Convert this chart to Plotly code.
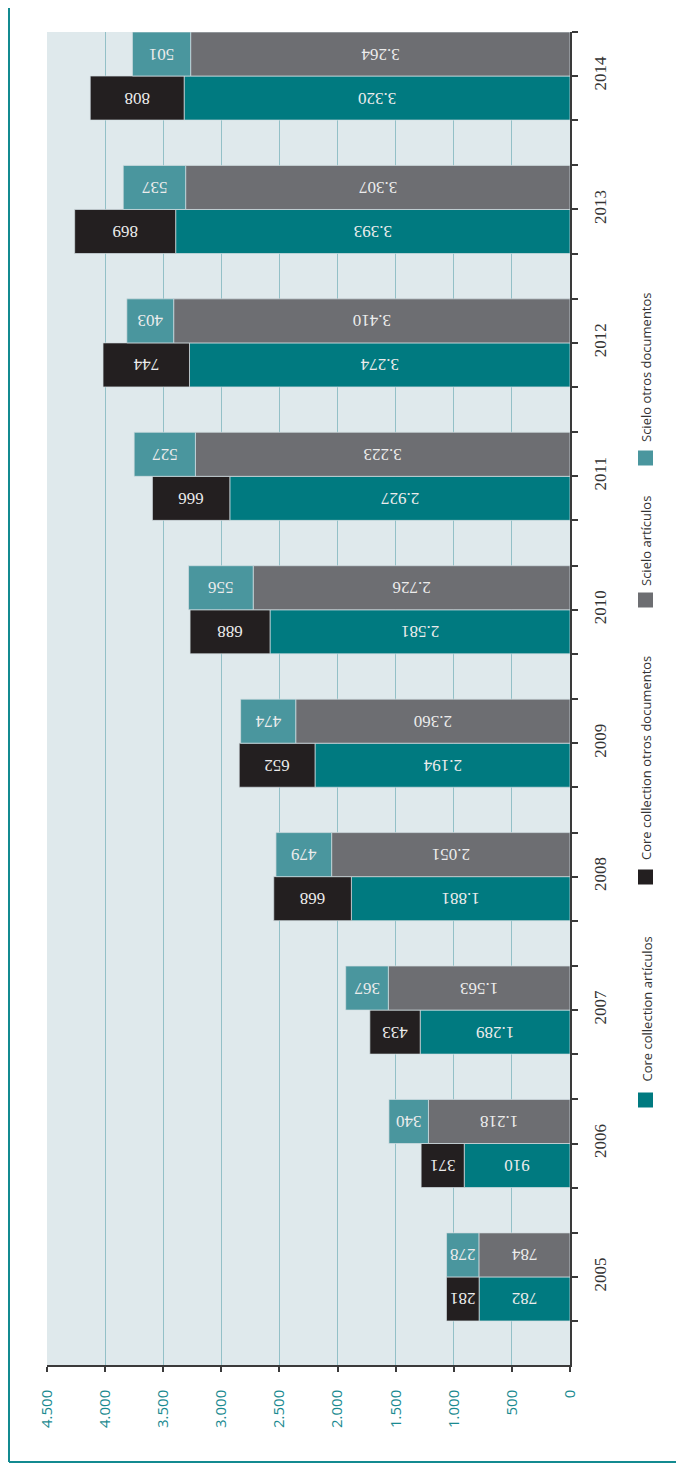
import plotly.graph_objects as go

years = [2005, 2006, 2007, 2008, 2009, 2010, 2011, 2012, 2013, 2014]
core_articulos = [782, 910, 1289, 1881, 2194, 2581, 2927, 3274, 3393, 3320]
core_otros = [281, 371, 433, 668, 652, 688, 666, 744, 869, 808]
scielo_articulos = [784, 1218, 1563, 2051, 2360, 2726, 3223, 3410, 3307, 3264]
scielo_otros = [278, 340, 367, 479, 474, 556, 527, 403, 537, 501]
series_names = ["Core collection artículos", "Core collection otros documentos",
                "Scielo artículos", "Scielo otros documentos"]
value_ticks = [0, 500, 1000, 1500, 2000, 2500, 3000, 3500, 4000, 4500]


def fmt(v):
    return f"{v:,}".replace(",", ".")


C_CORE = "#007a80"
C_BLACK = "#231f20"
C_GRAY = "#6d6e72"
C_LTEAL = "#4a969e"
colors = [C_CORE, C_BLACK, C_GRAY, C_LTEAL]

# page has an 8px body margin: figure origin sits at page (8, 8)
OFF = 8
W, H = 668, 1455
L, R, T, B = 47 - OFF, 570 - OFF, 32 - OFF, 1365 - OFF
BW = 0.33

fig = go.Figure()

label_font = dict(family="Liberation Serif, DejaVu Serif, serif", size=17, color="#ececec")
edge = dict(color="rgba(210,222,226,0.9)", width=0.8)


def add(vals, base, offset, color, name):
    fig.add_trace(go.Bar(
        orientation="h", y=years, x=vals, base=base, offset=offset, width=BW,
        marker=dict(color=color, line=edge), name=name,
        text=[fmt(v) for v in vals], textposition="inside", insidetextanchor="middle",
        textangle=180, textfont=label_font, constraintext="none", showlegend=False,
    ))


add(core_articulos, None, -BW, C_CORE, series_names[0])
add(core_otros, core_articulos, -BW, C_BLACK, series_names[1])
add(scielo_articulos, None, 0, C_GRAY, series_names[2])
add(scielo_otros, scielo_articulos, 0, C_LTEAL, series_names[3])

# y ticks at bar edges, labels at year centre
ytickvals, ytext = [], []
for y in years:
    for d in (-BW, 0, BW):
        ytickvals.append(y + d)
        ytext.append(str(y) if d == 0 else "")

fig.update_layout(
    width=W, height=H,
    margin=dict(l=L, r=W - R, t=T, b=H - B, pad=0),
    paper_bgcolor="white", plot_bgcolor="#dfe9ec",
    barmode="overlay", showlegend=False,
    xaxis=dict(
        range=[4500, 0], tickvals=value_ticks, ticktext=[fmt(v) for v in value_ticks],
        tickangle=-90, showgrid=True, gridcolor="#93c0c7", gridwidth=1, zeroline=False,
        showline=True, linecolor="#3a3a3a", linewidth=1.5, ticks="outside", ticklen=5,
        tickcolor="#3a3a3a", tickwidth=1.5, ticklabelstandoff=12,
        tickfont=dict(family="Open Sans, Lato, sans-serif", size=15, color="#1a8a90"),
    ),
    yaxis=dict(
        range=[2004.34, 2014.33], side="right", tickvals=ytickvals, ticktext=ytext,
        tickangle=-90, showgrid=False, zeroline=False, showline=True,
        linecolor="#3a3a3a", linewidth=1.5, ticks="outside", ticklen=6,
        tickcolor="#3a3a3a", tickwidth=1.5, ticklabelstandoff=8,
        tickfont=dict(family="Liberation Serif, DejaVu Serif, serif", size=17, color="#333333"),
    ),
)


def px_x(px):
    # px given in page coordinates
    return (px - OFF - L) / (R - L)


def px_y(py):
    return (B - (py - OFF)) / (B - T)


# outer frame (left and bottom)
frame = "#138a90"
fig.add_shape(type="line", xref="paper", yref="paper", x0=px_x(9), x1=px_x(9),
              y0=px_y(0), y1=px_y(1462), line=dict(color=frame, width=2))
fig.add_shape(type="line", xref="paper", yref="paper", x0=px_x(9), x1=px_x(700),
              y0=px_y(1462), y1=px_y(1462), line=dict(color=frame, width=2))

# legend (rotated)
leg_sq_y = [1100, 877, 600, 458]
leg_txt_y = [1084, 862, 588, 444]
for name, col, sy, ty in zip(series_names, colors, leg_sq_y, leg_txt_y):
    fig.add_shape(type="rect", xref="paper", yref="paper",
                  x0=px_x(638), x1=px_x(653), y0=px_y(sy + 7.5), y1=px_y(sy - 7.5),
                  fillcolor=col, line=dict(width=0))
    fig.add_annotation(xref="paper", yref="paper", x=px_x(646), y=px_y(ty),
                       text=name, textangle=-90, showarrow=False,
                       xanchor="center", yanchor="bottom",
                       font=dict(family="Open Sans, Lato, sans-serif", size=13, color="#333333"))

fig.write_html("out.html")
